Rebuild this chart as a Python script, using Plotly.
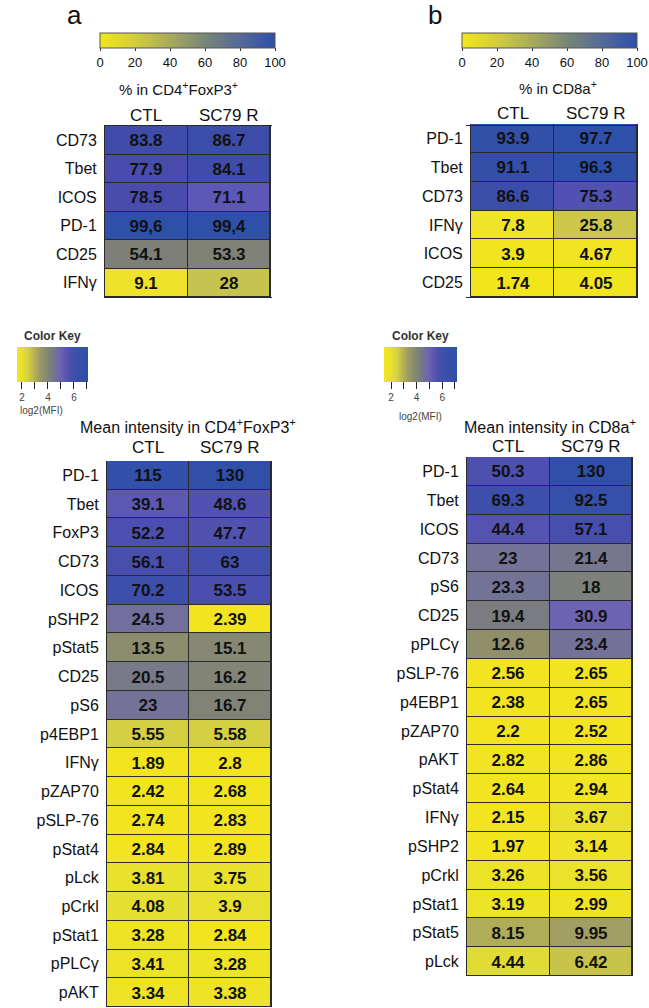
import math
import plotly.graph_objects as go

FONT = "Liberation Sans, Arial, Helvetica, sans-serif"
W, H = 649, 1008

cols = ["CTL", "SC79 R"]

# panel a, % in CD4+FoxP3+
a_top_rows = ["CD73", "Tbet", "ICOS", "PD-1", "CD25", "IFNγ"]
a_top_ctl = ["83.8", "77.9", "78.5", "99,6", "54.1", "9.1"]
a_top_sc79 = ["86.7", "84.1", "71.1", "99,4", "53.3", "28"]

# panel b, % in CD8a+
b_top_rows = ["PD-1", "Tbet", "CD73", "IFNγ", "ICOS", "CD25"]
b_top_ctl = ["93.9", "91.1", "86.6", "7.8", "3.9", "1.74"]
b_top_sc79 = ["97.7", "96.3", "75.3", "25.8", "4.67", "4.05"]

# panel a, mean intensity
a_mfi_rows = ["PD-1", "Tbet", "FoxP3", "CD73", "ICOS", "pSHP2", "pStat5", "CD25", "pS6",
              "p4EBP1", "IFNγ", "pZAP70", "pSLP-76", "pStat4", "pLck", "pCrkl", "pStat1",
              "pPLCγ", "pAKT"]
a_mfi_ctl = ["115", "39.1", "52.2", "56.1", "70.2", "24.5", "13.5", "20.5", "23", "5.55",
             "1.89", "2.42", "2.74", "2.84", "3.81", "4.08", "3.28", "3.41", "3.34"]
a_mfi_sc79 = ["130", "48.6", "47.7", "63", "53.5", "2.39", "15.1", "16.2", "16.7", "5.58",
              "2.8", "2.68", "2.83", "2.89", "3.75", "3.9", "2.84", "3.28", "3.38"]

# panel b, mean intensity
b_mfi_rows = ["PD-1", "Tbet", "ICOS", "CD73", "pS6", "CD25", "pPLCγ", "pSLP-76", "p4EBP1",
              "pZAP70", "pAKT", "pStat4", "IFNγ", "pSHP2", "pCrkl", "pStat1", "pStat5", "pLck"]
b_mfi_ctl = ["50.3", "69.3", "44.4", "23", "23.3", "19.4", "12.6", "2.56", "2.38", "2.2",
             "2.82", "2.64", "2.15", "1.97", "3.26", "3.19", "8.15", "4.44"]
b_mfi_sc79 = ["130", "92.5", "57.1", "21.4", "18", "30.9", "23.4", "2.65", "2.65", "2.52",
              "2.86", "2.94", "3.67", "3.14", "3.56", "2.99", "9.95", "6.42"]

pct_ticks = [0, 20, 40, 60, 80, 100]
key_ticks = [2, 3, 4, 5, 6, 7]
key_ticktext = ["2", "\u2009", "4", "\u2009", "6", "\u2009"]


def num(s):
    return float(s.replace(",", "."))


# colour scales
pct_cell_scale = [[0, "#f3e618"], [0.10, "#eee32c"], [0.27, "#c9c54c"], [0.40, "#a5a562"],
                  [0.54, "#7e7f78"], [0.64, "#6c68a0"], [0.71, "#5d58b8"], [0.78, "#4a4cac"],
                  [0.85, "#3d4ca8"], [0.95, "#3050a8"], [1, "#2e50a8"]]
pct_bar_scale = [[0, "#f2e71a"], [0.2, "#d2cd3a"], [0.4, "#a9aa5a"], [0.6, "#778676"],
                 [0.8, "#55699a"], [1, "#2f4fa9"]]
log_stops = [(1.4, "#f2e520"), (2.0, "#e6e030"), (2.5, "#d4cf42"), (3.0, "#b2ae58"),
             (3.5, "#969468"), (3.9, "#868872"), (4.2, "#7d7f7c"), (4.5, "#747394"),
             (5.0, "#6b62b6"), (5.4, "#5854b2"), (5.8, "#484eae"), (6.3, "#3850aa"),
             (7.2, "#2f50a8")]


def log_scale(lo, hi):
    res = []
    last = -1.0
    for v, c in log_stops:
        t = min(max((v - lo) / (hi - lo), 0.0), 1.0)
        if res and t <= last:
            res[-1] = [t, c]
        else:
            res.append([t, c])
        last = t
    res[0][0] = 0
    res[-1][0] = 1
    return res


def py(px):
    return 1 - px / H


def pxx(px):
    return px / W


fig = go.Figure()


def add_heat(rows, ctl, sc79, xa, ya, ca, logt):
    z = []
    text = []
    for c, s in zip(ctl, sc79):
        vc, vs = num(c), num(s)
        if logt:
            vc, vs = math.log2(vc), math.log2(vs)
        z.append([vc, vs])
        text.append([c, s])
    fig.add_trace(go.Heatmap(
        x=cols, y=rows, z=z, text=text, texttemplate="%{text}",
        textfont=dict(family=FONT, size=17, color="#111111", weight="bold"),
        xgap=1, ygap=1, coloraxis=ca, xaxis=xa, yaxis=ya, hoverinfo="skip"))


add_heat(a_top_rows, a_top_ctl, a_top_sc79, "x", "y", "coloraxis", False)
add_heat(b_top_rows, b_top_ctl, b_top_sc79, "x2", "y2", "coloraxis", False)
add_heat(a_mfi_rows, a_mfi_ctl, a_mfi_sc79, "x3", "y3", "coloraxis2", True)
add_heat(b_mfi_rows, b_mfi_ctl, b_mfi_sc79, "x4", "y4", "coloraxis3", True)

# hidden carriers for the % colour bars
for ca in ["coloraxis4", "coloraxis5"]:
    fig.add_trace(go.Scatter(x=[None], y=[None], mode="markers",
                             marker=dict(color=[0], coloraxis=ca),
                             showlegend=False, hoverinfo="skip", xaxis="x", yaxis="y"))

line_col = "#2a2a2a"


def xax(dom):
    return dict(domain=dom, showticklabels=False, showline=True, mirror=True,
                linecolor=line_col, linewidth=1, showgrid=False, zeroline=False,
                fixedrange=True, ticks="")


def yax(dom, xa):
    return dict(domain=dom, anchor=xa, autorange="reversed", showline=True, mirror=True,
                linecolor=line_col, linewidth=1, showgrid=False, zeroline=False,
                fixedrange=True, ticks="outside", ticklen=4, tickcolor="rgba(0,0,0,0)",
                tickfont=dict(family=FONT, size=16, color="#111111"))


def pct_bar(cx, length):
    return dict(orientation="h", x=pxx(cx), xanchor="center", y=py(33), yanchor="top",
                len=length, lenmode="pixels", thickness=15, thicknessmode="pixels",
                outlinewidth=1, outlinecolor="#555555", tickvals=pct_ticks, ticks="outside",
                ticklen=3, tickcolor="#333333", tickfont=dict(family=FONT, size=13, color="#111111"),
                xpad=0, ypad=0)


def key_bar(cx, length):
    return dict(orientation="h", x=pxx(cx), xanchor="center", y=py(347), yanchor="top",
                len=length, lenmode="pixels", thickness=35, thicknessmode="pixels",
                outlinewidth=0, tickvals=key_ticks, ticktext=key_ticktext, ticks="outside",
                ticklen=7, tickwidth=1, tickcolor="#222222",
                tickfont=dict(family=FONT, size=10, color="#444444"), xpad=0, ypad=0)


fig.update_layout(
    width=W, height=H, autosize=False,
    margin=dict(l=0, r=0, t=0, b=0, autoexpand=False),
    paper_bgcolor="white", plot_bgcolor=line_col,
    font=dict(family=FONT, color="#111111"),
    showlegend=False,
    xaxis=xax([pxx(105), pxx(270)]), yaxis=yax([py(297), py(126)], "x"),
    xaxis2=xax([pxx(471), pxx(637)]), yaxis2=yax([py(297), py(124)], "x2"),
    xaxis3=xax([pxx(107), pxx(271)]), yaxis3=yax([py(1007), py(461)], "x3"),
    xaxis4=xax([pxx(467), pxx(632)]), yaxis4=yax([py(976), py(457)], "x4"),
    coloraxis=dict(cmin=0, cmax=100, colorscale=pct_cell_scale, showscale=False),
    coloraxis2=dict(cmin=1.62, cmax=7.08, colorscale=log_scale(1.62, 7.08), colorbar=key_bar(52.5, 71)),
    coloraxis3=dict(cmin=1.45, cmax=7.16, colorscale=log_scale(1.45, 7.16), colorbar=key_bar(420.5, 73)),
    coloraxis4=dict(cmin=0, cmax=100, colorscale=pct_bar_scale, colorbar=pct_bar(187.5, 175)),
    coloraxis5=dict(cmin=0, cmax=100, colorscale=pct_bar_scale, colorbar=pct_bar(549.5, 175)),
)

ann = []


def text_ann(s, x, y, size, xref="paper", bold=False, color="#111111", xanchor="center"):
    ann.append(dict(text=s, x=x, y=y, xref=xref, yref="paper", showarrow=False,
                    xanchor=xanchor, yanchor="middle",
                    font=dict(family=FONT, size=size, color=color,
                              weight="bold" if bold else "normal")))


# panel letters
text_ann("a", pxx(74), py(15), 26)
text_ann("b", pxx(435), py(15), 26)
# titles
text_ann("% in CD4<sup>+</sup>FoxP3<sup>+</sup>", pxx(178), py(88), 15)
text_ann("% in CD8a<sup>+</sup>", pxx(558), py(87), 15)
text_ann("Mean intensity in CD4<sup>+</sup>FoxP3<sup>+</sup>", pxx(188), py(426), 16)
text_ann("Mean intensity in CD8a<sup>+</sup>", pxx(550), py(426), 16)
# column headers via category axes
for xr, yy in [("x", 115), ("x2", 113), ("x3", 447), ("x4", 446)]:
    for c in cols:
        text_ann(c, c, py(yy), 17, xref=xr)
# colour key labels
text_ann("Color Key", pxx(52), py(336), 12, bold=True, color="#333333")
text_ann("Color Key", pxx(421), py(336), 12, bold=True, color="#333333")
text_ann("log2(MFI)", pxx(41), py(410), 10, color="#444444")
text_ann("log2(MFI)", pxx(420), py(416), 10, color="#444444")

fig.update_layout(annotations=ann)
fig.write_html("out.html", config={"displayModeBar": False},
               post_script="document.body.style.margin='0';document.body.style.padding='0';")
